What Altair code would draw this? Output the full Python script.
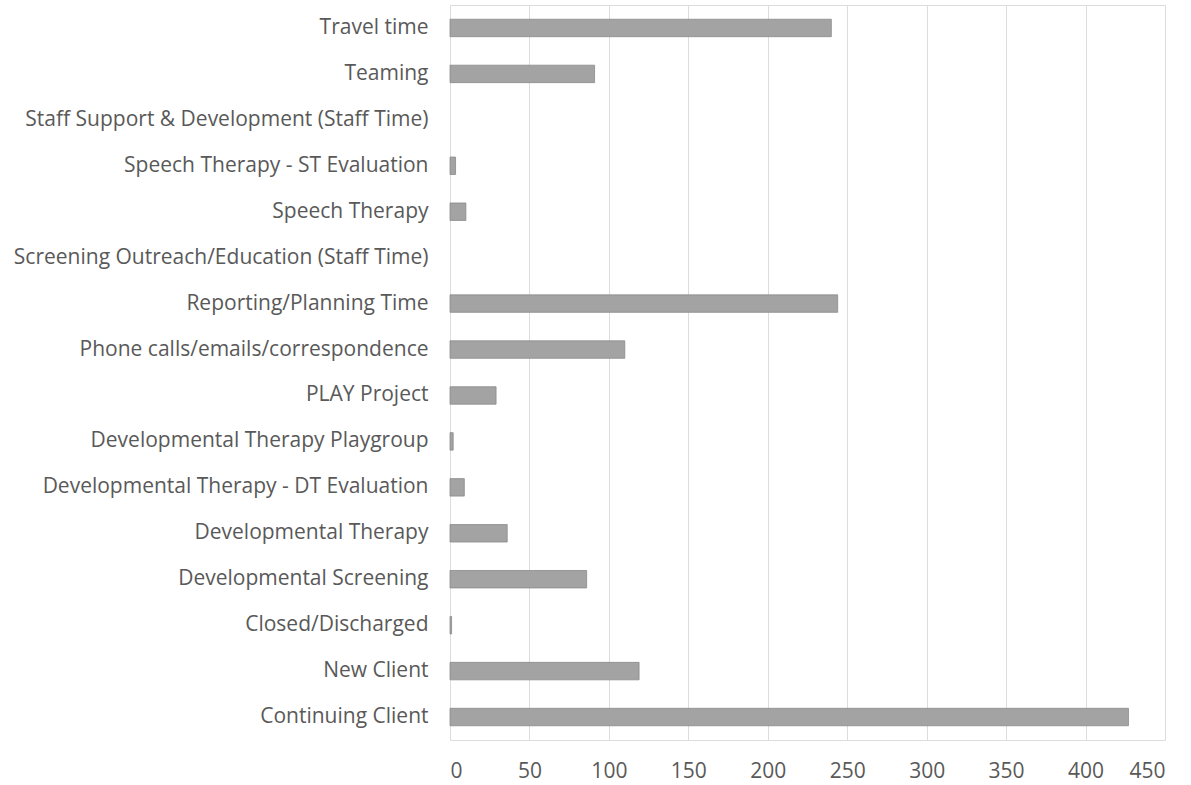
import altair as alt
import pandas as pd

categories = [
    "Travel time",
    "Teaming",
    "Staff Support & Development (Staff Time)",
    "Speech Therapy - ST Evaluation",
    "Speech Therapy",
    "Screening Outreach/Education (Staff Time)",
    "Reporting/Planning Time",
    "Phone calls/emails/correspondence",
    "PLAY Project",
    "Developmental Therapy Playgroup",
    "Developmental Therapy - DT Evaluation",
    "Developmental Therapy",
    "Developmental Screening",
    "Closed/Discharged",
    "New Client",
    "Continuing Client",
]
values = [240, 91, 0, 3.5, 10, 0, 244, 110, 29, 2, 9, 36, 86, 1, 119, 427]
x_ticks = [0, 50, 100, 150, 200, 250, 300, 350, 400, 450]

df = pd.DataFrame({"category": categories, "value": values})

FONT = "Open Sans"
LABEL_COLOR = "#595959"

chart = (
    alt.Chart(df)
    .mark_bar(color="#a3a3a3", stroke="#8a8a8a", strokeWidth=0.8)
    .encode(
        y=alt.Y(
            "category:N",
            sort=categories,
            title=None,
            scale=alt.Scale(paddingInner=0.62, paddingOuter=0.31),
            axis=alt.Axis(
                domain=False,
                ticks=False,
                grid=False,
                labelFont=FONT,
                labelFontSize=21,
                labelColor=LABEL_COLOR,
                labelPadding=22,
                labelLimit=600,
            ),
        ),
        x=alt.X(
            "value:Q",
            title=None,
            scale=alt.Scale(domain=[0, 450], nice=False),
            axis=alt.Axis(
                values=x_ticks,
                domain=False,
                ticks=False,
                grid=True,
                gridColor="#dcdcdc",
                gridWidth=1,
                labelFont=FONT,
                labelFontSize=21,
                labelColor=LABEL_COLOR,
                labelPadding=20,
            ),
        ),
        strokeOpacity=alt.condition("datum.value > 0", alt.value(1), alt.value(0)),
    )
    .properties(
        width=715,
        height=735,
        autosize=alt.AutoSizeParams(type="none"),
        padding={"left": 450, "top": 5, "right": 26, "bottom": 45},
    )
    .configure_view(stroke=None)
    .configure(background="white")
)

chart.save("out.html", embed_options={"renderer": "svg", "actions": False})
